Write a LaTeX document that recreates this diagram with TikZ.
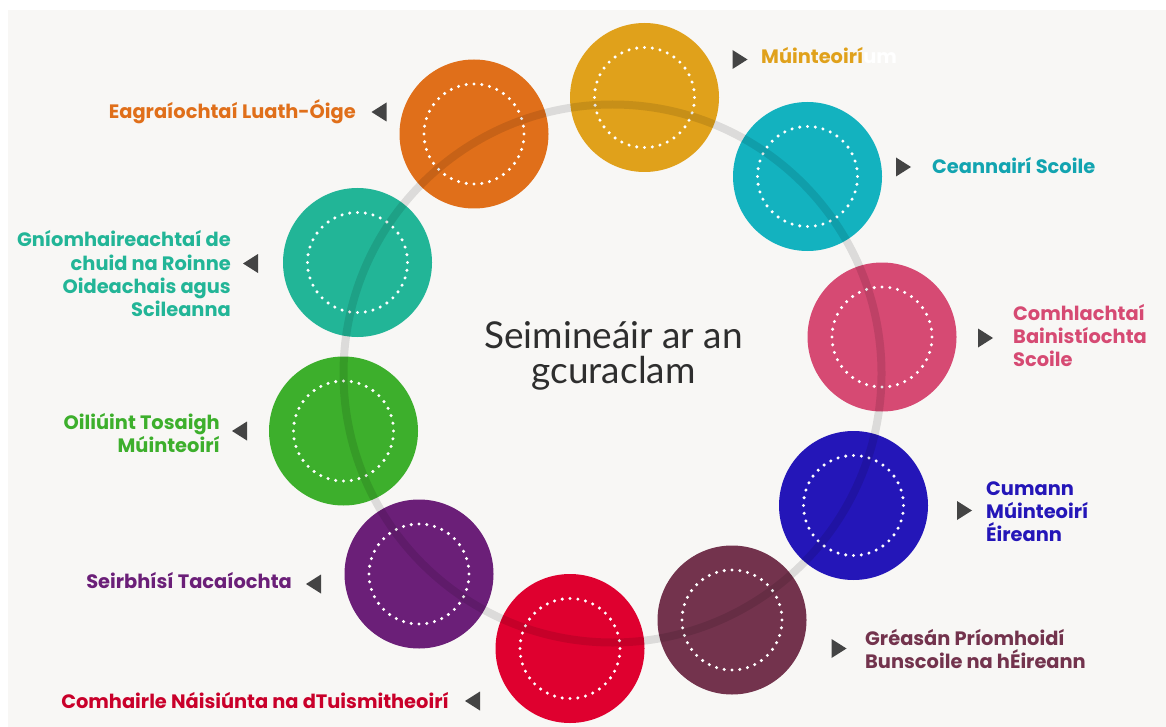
\documentclass[tikz,border=0pt]{standalone}
\usepackage{fontspec}
\newfontfamily\labfont{Poppins}
\newfontfamily\titlefont{Lato}
\definecolor{bgc}{HTML}{F8F7F5}
\definecolor{tricol}{HTML}{444444}
\definecolor{titlec}{HTML}{2E2E2E}
\definecolor{cGold}{HTML}{E0A11B}
\definecolor{cOrange}{HTML}{E06F1A}
\definecolor{cTeal}{HTML}{13B2BF}
\definecolor{cPink}{HTML}{D64A73}
\definecolor{cBlue}{HTML}{2416B8}
\definecolor{cMaroon}{HTML}{73334D}
\definecolor{cRed}{HTML}{DF002F}
\definecolor{cPurple}{HTML}{6B1F78}
\definecolor{cGreen}{HTML}{3DAF2C}
\definecolor{cTealG}{HTML}{22B597}
\begin{document}
\begin{tikzpicture}[x=1pt,y=-1pt,
  disc/.style={circle, minimum size=149pt, inner sep=0pt, draw=none},
  lab/.style={font=\labfont\bfseries\fontsize{19.4}{23.3}\selectfont, inner sep=0pt},
  labR/.style={lab, anchor=base west, align=left},
  labL/.style={lab, anchor=base east, align=right},
  trir/.pic={\fill[tricol] (-7.5,-9.5) -- (7.5,0) -- (-7.5,9.5) -- cycle;},
  tril/.pic={\fill[tricol] (7.5,-9.5) -- (-7.5,0) -- (7.5,9.5) -- cycle;},
  dots/.pic={\foreach \a in {0,9,...,351} \fill[white] (\a:50) circle[radius=1.7];}
]
\fill[white] (0,0) rectangle (1166,727);
\fill[bgc] (8,10) rectangle (1166,727);
\useasboundingbox (0,0) rectangle (1166,727);

% discs
\node[disc, fill=cGold]   (gold)   at (644.5,97.5) {};
\node[disc, fill=cOrange] (orange) at (474,134) {};
\node[disc, fill=cTeal]   (teal)   at (807.5,176.5) {};
\node[disc, fill=cPink]   (pink)   at (882,337) {};
\node[disc, fill=cBlue]   (blue)   at (853.5,505.5) {};
\node[disc, fill=cMaroon] (maroon) at (732,620) {};
\node[disc, fill=cRed]    (red)    at (570,648.5) {};
\node[disc, fill=cPurple] (purple) at (419,574) {};
\node[disc, fill=cGreen]  (green)  at (343.5,431) {};
\node[disc, fill=cTealG]  (tealg)  at (357.5,262.5) {};

\foreach \n in {gold,orange,teal,pink,blue,maroon,red,purple,green,tealg}
  \pic at (\n) {dots};

% ring
\coordinate (ringc) at (612.5,373.5);
\draw[black, opacity=0.11, line width=8pt] (ringc) circle[radius=269];

% centre text
\node[font=\titlefont\fontsize{37}{35}\selectfont, text=titlec, align=center, anchor=base, inner sep=0pt]
  (title) at (613.5,383) {Seimineáir ar an\\gcuraclam};

% markers
\pic at (740,59.5) {trir};
\pic at (903.5,167) {trir};
\pic at (985.5,338) {trir};
\pic at (964.5,510.5) {trir};
\pic at (839,648.5) {trir};
\pic at (472.5,701) {tril};
\pic at (313.5,584) {tril};
\pic at (239.5,431) {tril};
\pic at (250.5,263.5) {tril};
\pic at (379,112) {tril};

% labels
\node[labR, text=cGold] (lgold) at (761,64) {Múinteoirí\textcolor{white}{um}};
\node[labR, text=cTeal!92!black] (lteal) at (932,174) {Ceannairí Scoile};
\node[labR, text=cPink] (lpink) at (1013,366.7) {Comhlachtaí\\Bainistíochta\\Scoile};
\node[labR, text=cBlue] (lblue) at (986,541.7) {Cumann\\Múinteoirí\\Éireann};
\node[labR, text=cMaroon] (lmaroon) at (865,668.7) {Gréasán Príomhoidí\\Bunscoile na hÉireann};
\node[labL, text=cRed!90!black] (lred) at (449,708) {Comhairle Náisiúnta na dTuismitheoirí};
\node[labL, text=cPurple] (lpurple) at (292,588) {Seirbhísí Tacaíochta};
\node[labL, text=cGreen] (lgreen) at (220,452.3) {Oiliúint Tosaigh\\Múinteoirí};
\node[labL, text=cTealG] (ltealg) at (231,316.7) {Gníomhaireachtaí de\\chuid na Roinne\\Oideachais agus\\Scileanna};
\node[labL, text=cOrange] (lorange) at (356,118.3) {Eagraíochtaí Luath-Óige};
\end{tikzpicture}
\end{document}
